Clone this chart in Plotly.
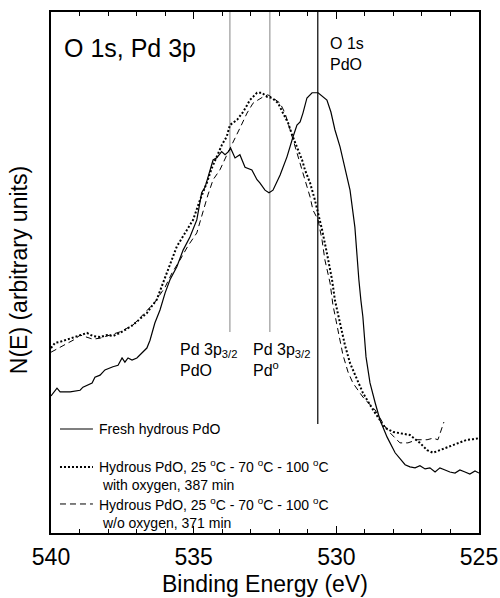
import plotly.graph_objects as go

# ---- data (binding energy in eV, intensity in arbitrary units) ----
energy_fresh = [540.00, 539.79, 539.68, 539.33, 538.98, 538.88, 538.56, 538.46, 538.28, 538.11,
                537.83, 537.65, 537.51, 537.41, 537.30, 537.16, 536.99, 536.81, 536.64, 536.53,
                536.36, 536.18, 536.00, 535.83, 535.59, 535.37, 535.13, 534.89, 534.72, 534.60,
                534.43, 534.32, 534.19, 534.02, 533.90, 533.80, 533.70, 533.55, 533.38, 533.20,
                532.96, 532.78, 532.68, 532.50, 532.36, 532.22, 531.97, 531.73, 531.52, 531.38,
                531.27, 531.17, 531.03, 530.85, 530.64, 530.47, 530.33, 530.19, 530.05, 529.87,
                529.70, 529.52, 529.35, 529.28, 529.21, 529.14, 529.07, 528.96, 528.82, 528.64,
                528.47, 528.22, 527.94, 527.59, 527.42, 527.24, 527.07, 526.89, 526.72, 526.54,
                526.37, 526.19, 526.02, 525.84, 525.67, 525.49, 525.32, 525.14, 525.00]
fresh = [26.3, 27.8, 27.1, 27.1, 27.4, 28.0, 28.8, 29.9, 30.3, 31.3,
         31.9, 32.2, 33.6, 32.8, 33.6, 33.2, 33.6, 34.5, 35.5, 37.0,
         40.3, 42.8, 46.1, 48.6, 51.1, 54.3, 56.8, 60.1, 65.3, 66.4,
         69.7, 71.6, 72.0, 73.2, 72.6, 73.1, 73.8, 72.0, 72.6, 70.2,
         69.7, 67.8, 67.2, 65.8, 65.3, 65.8, 68.7, 72.2, 76.0, 78.3,
         78.9, 80.6, 83.5, 84.5, 84.5, 83.7, 83.1, 80.8, 77.4, 74.1,
         70.2, 65.8, 58.7, 53.0, 48.6, 44.7, 41.5, 33.8, 28.8, 25.0,
         21.7, 18.4, 15.4, 13.1, 12.7, 12.5, 12.9, 12.3, 12.5, 11.7,
         12.5, 12.1, 11.7, 11.5, 12.1, 11.7, 11.3, 11.9, 11.5]

energy_oxygen = [540.00, 539.86, 539.68, 539.51, 539.33, 539.16, 538.98, 538.74, 538.53, 538.28,
                 538.04, 537.83, 537.58, 537.34, 537.13, 536.88, 536.64, 536.46, 536.30, 535.97,
                 535.59, 535.30, 535.02, 534.78, 534.54, 534.36, 534.19, 534.01, 533.84, 533.73,
                 533.48, 533.27, 533.13, 533.03, 532.92, 532.78, 532.61, 532.43, 532.25, 532.04,
                 531.87, 531.69, 531.55, 531.38, 531.20, 531.10, 530.92, 530.75, 530.64, 530.50,
                 530.33, 530.15, 530.05, 529.87, 529.70, 529.52, 529.28, 529.07, 528.71, 528.29,
                 528.01, 527.77, 527.42, 527.07, 526.82, 526.61, 526.37, 526.12, 525.91, 525.67,
                 525.42, 525.21, 525.00]
with_oxygen = [35.5, 36.5, 36.7, 37.0, 37.4, 37.6, 38.0, 38.4, 37.8, 37.6,
               38.0, 37.8, 38.4, 39.2, 39.9, 41.1, 42.2, 43.6, 44.7, 49.5,
               55.0, 57.6, 60.1, 63.9, 67.2, 70.1, 72.2, 74.5, 76.1, 78.3,
               79.3, 80.8, 82.1, 83.1, 83.7, 84.5, 84.5, 83.7, 83.5, 82.5,
               80.6, 78.7, 76.4, 74.1, 71.6, 69.7, 67.2, 63.9, 61.4, 58.2,
               53.7, 48.6, 44.7, 40.3, 36.1, 32.6, 29.4, 26.9, 23.6, 20.2,
               19.4, 19.2, 18.8, 17.3, 15.9, 15.4, 15.9, 16.5, 16.9, 17.5,
               17.9, 18.0, 18.2]

energy_no_oxygen = [540.00, 539.86, 539.68, 539.51, 539.33, 539.16, 538.98, 538.74, 538.53, 538.28,
                    538.04, 537.83, 537.58, 537.34, 537.13, 536.88, 536.64, 536.36, 536.00, 535.76,
                    535.48, 535.20, 534.89, 534.67, 534.50, 534.32, 534.08, 533.80, 533.55, 533.38,
                    533.13, 532.92, 532.75, 532.57, 532.40, 532.22, 531.97, 531.80, 531.62, 531.45,
                    531.27, 531.10, 530.92, 530.82, 530.64, 530.50, 530.40, 530.22, 530.12, 529.94,
                    529.77, 529.59, 529.42, 529.07, 528.64, 528.22, 527.94, 527.77, 527.49, 527.17,
                    526.82, 526.61, 526.44, 526.23]
without_oxygen = [34.7, 35.1, 35.7, 36.1, 36.7, 37.2, 38.0, 37.6, 37.2, 37.4,
                  37.8, 38.2, 38.6, 39.3, 39.9, 41.3, 42.6, 44.3, 47.2, 49.9,
                  52.4, 55.1, 57.6, 62.0, 64.9, 67.8, 69.7, 73.0, 76.0, 77.7,
                  80.6, 82.5, 83.1, 83.7, 84.1, 83.5, 82.5, 80.6, 77.4, 74.1,
                  71.0, 67.8, 64.5, 62.0, 60.1, 56.2, 52.4, 48.0, 43.8, 39.0,
                  34.2, 30.9, 28.8, 26.1, 23.6, 19.8, 18.2, 17.3, 17.3, 17.9,
                  17.9, 18.2, 17.9, 21.3]

series_names = ["Fresh hydrous PdO",
                "Hydrous PdO, 25 <sup>o</sup>C - 70 <sup>o</sup>C - 100 <sup>o</sup>C<br> with oxygen, 387 min",
                "Hydrous PdO, 25 <sup>o</sup>C - 70 <sup>o</sup>C - 100 <sup>o</sup>C<br> w/o oxygen, 371 min"]

# reference peak positions (eV) and the lower end of each marker line
peak_positions = [533.73, 532.33, 530.65]
peak_line_bottoms = [38.6, 38.6, 20.9]
peak_line_colors = ["#999999", "#999999", "#000000"]

x_ticks = [540, 535, 530, 525]

FONT = "Liberation Sans, Arial, sans-serif"

line_styles = [dict(color="black", width=1.2),
               dict(color="black", width=2, dash="2px,2px"),
               dict(color="black", width=1, dash="6px,4px")]

fig = go.Figure()
for xs, ys, nm, ls in zip([energy_fresh, energy_oxygen, energy_no_oxygen],
                          [fresh, with_oxygen, without_oxygen], series_names, line_styles):
    fig.add_trace(go.Scatter(x=xs, y=ys, mode="lines", name=nm, line=ls, showlegend=False))

for xp, yb, c in zip(peak_positions, peak_line_bottoms, peak_line_colors):
    fig.add_shape(type="line", xref="x", yref="y", x0=xp, x1=xp, y0=yb, y1=100,
                  line=dict(color=c, width=1.2), layer="below")

# hand-placed legend (paper coordinates): sample line + label for each series
legend_rows_y = [0.1996, 0.1267, 0.0557]
legend_text_y = [0.1996, 0.1104, 0.0393]
for ly, ty, nm, ls in zip(legend_rows_y, legend_text_y, series_names, line_styles):
    fig.add_shape(type="line", xref="paper", yref="paper", x0=0.021, x1=0.098, y0=ly, y1=ly,
                  line=ls)
    fig.add_annotation(text=nm, xref="paper", yref="paper", x=0.1065, y=ty,
                       xanchor="left", yanchor="middle", align="left", showarrow=False,
                       font=dict(size=14, family=FONT, color="black"))

fig.update_layout(
    width=500, height=598,
    margin=dict(l=51, r=21, t=12, b=65),
    plot_bgcolor="white", paper_bgcolor="white",
    font=dict(family=FONT, color="black"),
    showlegend=False,
    xaxis=dict(range=[540, 525], tickvals=x_ticks, ticktext=[str(v) for v in x_ticks],
               ticks="inside", ticklen=7, tickwidth=1.2, tickcolor="black",
               minor=dict(dtick=1, ticks="inside", ticklen=4, tickwidth=1.2, tickcolor="black"),
               showline=True, linecolor="black", linewidth=1.5, mirror="ticks",
               showgrid=False, zeroline=False, tickfont=dict(size=23, family=FONT),
               ticklabelstandoff=3, automargin=False),
    yaxis=dict(range=[0, 100], showticklabels=False, ticks="",
               showline=True, linecolor="black", linewidth=1.5, mirror=True,
               showgrid=False, zeroline=False, automargin=False),
)

annotations = [
    dict(text="O 1s, Pd 3p", x=0.026, y=0.931, xanchor="left", yanchor="middle",
         font=dict(size=25)),
    dict(text="O 1s<br>PdO", x=0.647, y=0.919, xanchor="left", yanchor="middle",
         align="left", font=dict(size=16)),
    dict(text="Pd 3p<sub>3/2</sub><br>PdO", x=0.297, y=0.332, xanchor="left", yanchor="middle",
         align="left", font=dict(size=16)),
    dict(text="Pd 3p<sub>3/2</sub><br>Pd<sup>o</sup>", x=0.467, y=0.332, xanchor="left",
         yanchor="middle", align="left", font=dict(size=16)),
    dict(text="Binding Energy (eV)", x=0.5, y=-0.098, xanchor="center", yanchor="middle",
         font=dict(size=23)),
    dict(text="N(E) (arbitrary units)", x=-0.074, y=0.505, xanchor="center", yanchor="middle",
         textangle=-90, font=dict(size=23)),
]
for a in annotations:
    a.update(xref="paper", yref="paper", showarrow=False)
    a["font"].update(family=FONT, color="black")
    fig.add_annotation(**a)

# remove the browser's default page margin so the 500x598 figure fills the window exactly
fig.write_html("out.html", config={"displayModeBar": False},
               post_script="document.body.style.margin='0';document.body.style.overflow='hidden';")
